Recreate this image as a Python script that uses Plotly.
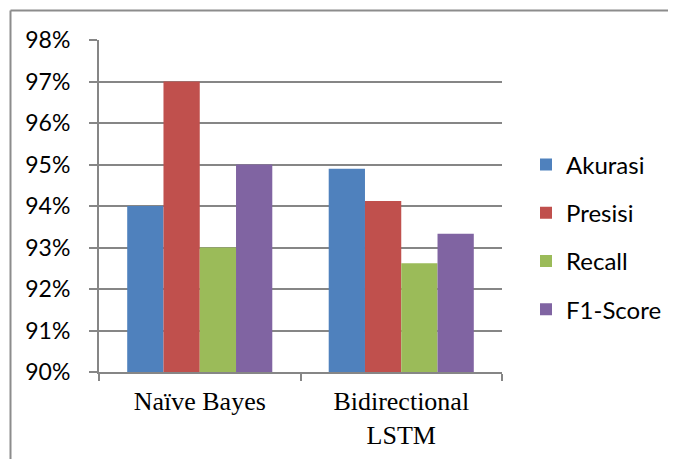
import plotly.graph_objects as go

categories = ["Naïve Bayes", "Bidirectional<br>LSTM"]
series_names = ["Akurasi", "Presisi", "Recall", "F1-Score"]
akurasi = [0.94, 0.949]
presisi = [0.97, 0.9412]
recall = [0.93, 0.9262]
f1_score = [0.95, 0.9333]
series_values = [akurasi, presisi, recall, f1_score]
colors = ["#4F81BD", "#C0504D", "#9BBB59", "#8064A2"]
y_ticks = [0.90, 0.91, 0.92, 0.93, 0.94, 0.95, 0.96, 0.97, 0.98]
y_tick_labels = ["90%", "91%", "92%", "93%", "94%", "95%", "96%", "97%", "98%"]

fig = go.Figure()
for name, vals, col in zip(series_names, series_values, colors):
    fig.add_trace(go.Bar(
        x=categories, y=vals, name=name, legendgroup=name,
        marker=dict(color=col, line=dict(width=0)),
    ))

# page body has an 8px default margin; compensate
OFF = 8
W, H = 676 - OFF, 459 - OFF
L, R, T, B = 99 - OFF, 174, 40 - OFF, 87
pw, ph = W - L - R, H - T - B

def px_x(x):
    return (x - OFF - L) / pw

def px_y(y):
    return (H - B - (y - OFF)) / ph

fig.update_layout(
    width=W, height=H,
    margin=dict(l=L, r=R, t=T, b=B, pad=0, autoexpand=False),
    paper_bgcolor="white", plot_bgcolor="white",
    barmode="group", bargap=0.28, bargroupgap=0,
    font=dict(family="Lato, Carlito, Calibri, sans-serif", color="black"),
    legend=dict(
        x=px_x(526), xanchor="left", y=px_y(237), yanchor="middle",
        font=dict(size=24, family="Lato, Carlito, sans-serif", color="black"),
        tracegroupgap=14, traceorder="grouped", bgcolor="rgba(0,0,0,0)",
    ),
    xaxis=dict(
        type="category", showgrid=False, showline=True, linecolor="#868686", linewidth=2,
        ticks="outside", tickson="boundaries", ticklen=7, tickcolor="#868686", tickwidth=2,
        tickfont=dict(family="Liberation Serif, Times New Roman, serif", size=26, color="black"),
        ticklabelstandoff=5,
    ),
    yaxis=dict(
        range=[0.90, 0.98], tickvals=y_ticks, ticktext=y_tick_labels,
        showgrid=True, gridcolor="#868686", gridwidth=2,
        showline=True, linecolor="#868686", linewidth=2,
        ticks="outside", ticklen=8, tickcolor="#868686", tickwidth=2,
        tickfont=dict(size=23, family="Lato, Carlito, sans-serif", color="black"),
        ticklabelstandoff=14, zeroline=False,
    ),
    shapes=[
        dict(type="line", xref="paper", yref="paper",
             x0=px_x(10.5), x1=px_x(10.5), y0=px_y(10.5), y1=px_y(470),
             line=dict(color="#8C8C8C", width=2)),
        dict(type="line", xref="paper", yref="paper",
             x0=px_x(10.5), x1=px_x(690), y0=px_y(10.5), y1=px_y(10.5),
             line=dict(color="#8C8C8C", width=2)),
    ],
)

fig.write_html("out.html")
